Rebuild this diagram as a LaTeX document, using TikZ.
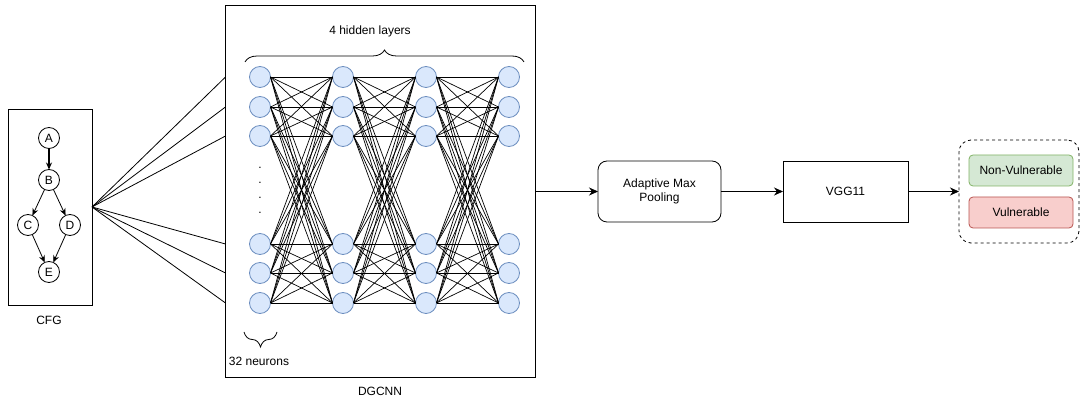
\documentclass[tikz,border=0pt]{standalone}
\usepackage{fontspec}
\setmainfont{Liberation Sans}
\usetikzlibrary{arrows.meta,decorations.pathreplacing,calc}
\definecolor{nfill}{HTML}{DAE8FC}
\definecolor{ndraw}{HTML}{6C8EBF}
\definecolor{gfill}{HTML}{D5E8D4}
\definecolor{gdraw}{HTML}{82B366}
\definecolor{rfill}{HTML}{F8CECC}
\definecolor{rdraw}{HTML}{B85450}
\begin{document}
\begin{tikzpicture}[x=1pt,y=-1pt,
  font=\fontsize{12}{14}\selectfont,
  neuron/.style={circle,minimum size=21pt,inner sep=0pt,outer sep=0pt,fill=nfill,draw=ndraw,line width=0.8pt},
  edge/.style={line width=0.7pt,black},
  cfgnode/.style={circle,minimum size=21pt,inner sep=0pt,outer sep=0pt,draw,fill=white,line width=0.8pt},
  cfgarrow/.style={line width=0.8pt,-{Stealth[length=7pt,width=6pt]}},
  box/.style={draw,line width=0.8pt,inner sep=0pt,outer sep=0pt,align=center},
  flow/.style={line width=0.8pt,-{Stealth[length=9pt,width=8pt]}},
  lbl/.style={inner sep=0pt}
]
\useasboundingbox (0,0) rectangle (1080,403);

% DGCNN box
\node[box,minimum width=310pt,minimum height=372pt] (dg) at (380.5,191) {};
\node[lbl] (dglbl) at (380,391) {DGCNN};

% neurons
\foreach \c/\x in {1/260,2/343,3/426,4/509}
  \foreach \r/\y in {1/77,2/107,3/136,4/244,5/273,6/303}
    \node[neuron] (n-\c-\r) at (\x,\y) {};

% full connections
\foreach \c/\d in {1/2,2/3,3/4}
  \foreach \i in {1,...,6}
    \foreach \j in {1,...,6}
      \draw[edge] (n-\c-\i.east) -- (n-\d-\j.west);

% dots
\foreach \k/\y in {1/168,2/183,3/198,4/213}
  \node[lbl] (dot\k) at (260,\y) {.};

% braces
\draw[line width=0.8pt,decorate,decoration={brace,amplitude=12pt}] (245,62) -- (524,62);
\node[lbl] (hid) at (370,31) {4 hidden layers};
\draw[line width=0.8pt,decorate,decoration={brace,amplitude=15pt,mirror}] (244,332) -- (277,332);
\node[lbl] (neu) at (259,361) {32 neurons};

% CFG
\node[box,minimum width=84pt,minimum height=196pt] (cfg) at (50,207) {};
\node[lbl] (cfglbl) at (49,320) {CFG};
\node[cfgnode] (A) at (49,138) {A};
\node[cfgnode] (B) at (49,180) {B};
\node[cfgnode] (C) at (28,225) {C};
\node[cfgnode] (D) at (70,225) {D};
\node[cfgnode] (E) at (49,272) {E};
\draw[cfgarrow,line width=1.3pt] (A) -- (B);
\draw[cfgarrow] (B) -- (C);
\draw[cfgarrow] (B) -- (D);
\draw[cfgarrow] (C) -- (E);
\draw[cfgarrow] (D) -- (E);

% fan lines
\foreach \r in {1,...,6}
  \draw[line width=0.8pt] (cfg.east) -- (dg.west |- n-1-\r);

% pipeline
\node[box,rounded corners=9pt,minimum width=123pt,minimum height=61pt] (pool) at (659.5,191.5) {Adaptive Max\\Pooling};
\node[box,minimum width=125pt,minimum height=61pt] (vgg) at (845.5,191.5) {VGG11};
\node[draw,dashed,dash pattern=on 3pt off 3pt,line width=0.8pt,rounded corners=12pt,minimum width=120pt,minimum height=103pt,inner sep=0pt,outer sep=0pt] (out) at (1019,191.5) {};
\node[box,rounded corners=4pt,fill=gfill,draw=gdraw,minimum width=104pt,minimum height=31pt] (nv) at (1021,170.5) {Non-Vulnerable};
\node[box,rounded corners=4pt,fill=rfill,draw=rdraw,minimum width=104pt,minimum height=31pt] (v) at (1021,212.5) {Vulnerable};

\draw[flow] (dg.east |- pool.west) -- (pool.west);
\draw[flow] (pool.east) -- (vgg.west);
\draw[flow] (vgg.east) -- (out.west);
\end{tikzpicture}
\end{document}
